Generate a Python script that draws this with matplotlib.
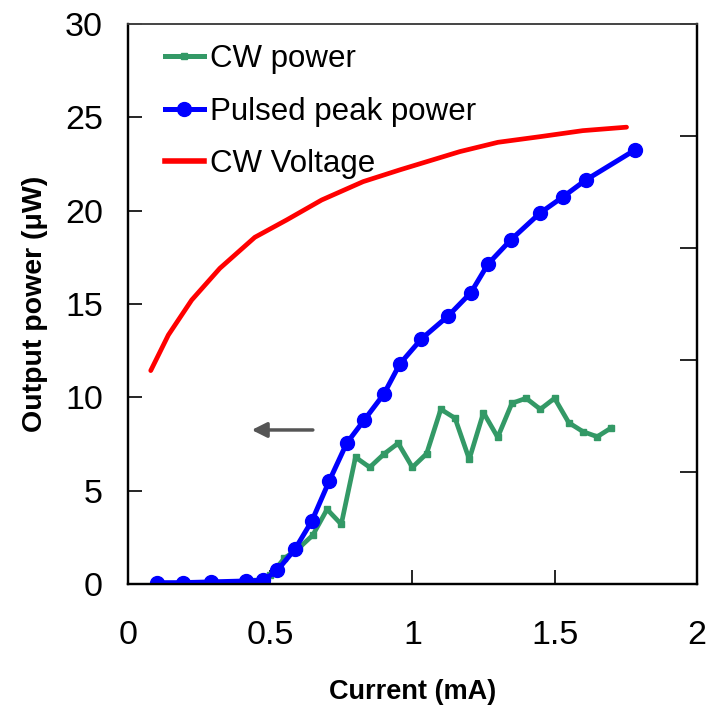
import matplotlib
matplotlib.use("Agg")
import matplotlib.pyplot as plt
from matplotlib.lines import Line2D

plt.rcParams['font.family'] = ['Liberation Sans', 'DejaVu Sans']

# CW output power (µW) vs current (mA)
cw_current = [0.45, 0.50, 0.55, 0.60, 0.65, 0.70, 0.75, 0.80, 0.85, 0.90,
              0.95, 1.00, 1.05, 1.10, 1.15, 1.20, 1.25, 1.30, 1.35, 1.40,
              1.45, 1.50, 1.55, 1.60, 1.65, 1.70]
cw_power = [0.16, 0.46, 1.38, 1.91, 2.62, 4.00, 3.20, 6.79, 6.25, 6.96,
            7.54, 6.25, 6.98, 9.36, 8.88, 6.68, 9.18, 7.86, 9.68, 9.95,
            9.36, 9.95, 8.64, 8.16, 7.89, 8.37]

# Pulsed peak power (µW) vs current (mA)
pulsed_current = [0.101, 0.192, 0.292, 0.414, 0.476, 0.525, 0.587, 0.647,
                  0.708, 0.769, 0.831, 0.900, 0.956, 1.032, 1.126, 1.206,
                  1.266, 1.346, 1.448, 1.528, 1.610, 1.783]
pulsed_power = [0.07, 0.07, 0.11, 0.16, 0.20, 0.73, 1.86, 3.39,
                5.53, 7.54, 8.79, 10.18, 11.79, 13.13, 14.36, 15.61,
                17.14, 18.43, 19.86, 20.72, 21.64, 23.25]

# CW voltage (V) vs current (mA), right axis
volt_current = [0.080, 0.142, 0.224, 0.323, 0.446, 0.558, 0.681, 0.827,
                0.956, 1.167, 1.301, 1.448, 1.599, 1.753]
cw_voltage = [1.905, 2.223, 2.535, 2.818, 3.095, 3.250, 3.428, 3.592,
              3.697, 3.860, 3.943, 3.993, 4.047, 4.078]

x_ticks = [0, 0.5, 1, 1.5, 2]
x_ticklabels = ['0', '0.5', '1', '1.5', '2']
y_ticks = [0, 5, 10, 15, 20, 25, 30]
v_ticks = [0, 1, 2, 3, 4, 5]

green = '#339966'
blue = '#0000FF'
red = '#FF0000'

fig = plt.figure(figsize=(7.11, 7.09), dpi=100)
ax = fig.add_axes([0.180, 0.1763, 0.800, 0.790])
ax2 = ax.twinx()

ax.plot(cw_current, cw_power, color=green, lw=3.4, marker='s', ms=5,
        mec=green, mfc=green, zorder=3)
ax.plot(pulsed_current, pulsed_power, color=blue, lw=3.6, marker='o', ms=10,
        mec=blue, mfc=blue, zorder=4)
ax2.plot(volt_current, cw_voltage, color=red, lw=3.4, solid_capstyle='round')

ax.set_xlim(0, 2)
ax.set_ylim(0, 30)
ax2.set_ylim(0, 5)

ax.set_xticks(x_ticks)
ax.set_xticklabels(x_ticklabels)
ax.set_yticks(y_ticks)
ax.tick_params(axis='both', direction='in', labelsize=24.5, length=10, width=1.2)
ax.tick_params(axis='x', pad=26)
ax.tick_params(axis='y', pad=18)
ax2.set_yticks(v_ticks)
ax2.tick_params(axis='y', direction='in', length=12, width=1.2, labelright=False)

for a in (ax, ax2):
    for side in ('left', 'bottom', 'right'):
        a.spines[side].set_linewidth(1.6)
        a.spines[side].set_color('black')
    a.spines['top'].set_linewidth(1.2)
    a.spines['top'].set_color('#444444')

ax.set_xlabel('Current (mA)', fontsize=19.5, fontweight='bold', labelpad=20)
ax.set_ylabel('Output power (μW)', fontsize=20.5, fontweight='bold', labelpad=12)

# arrow pointing to the left axis
ax.annotate('', xy=(0.435, 8.25), xytext=(0.65, 8.25),
            arrowprops=dict(arrowstyle='-|>,head_length=0.9,head_width=0.45',
                            color='#555555', lw=2.5, shrinkA=0, shrinkB=0))

handles = [
    Line2D([], [], color=green, lw=3.6, marker='s', ms=5),
    Line2D([], [], color=blue, lw=3.6, marker='o', ms=10),
    Line2D([], [], color=red, lw=4.0),
]
labels = ['CW power', 'Pulsed peak power', 'CW Voltage']
ax2.legend(handles, labels, loc='upper left', bbox_to_anchor=(0.032, 0.997),
           frameon=False, fontsize=22.5, handlelength=1.25, handletextpad=0.2,
           labelspacing=0.72, borderaxespad=0.2)

fig.savefig('out.png', dpi=100)
